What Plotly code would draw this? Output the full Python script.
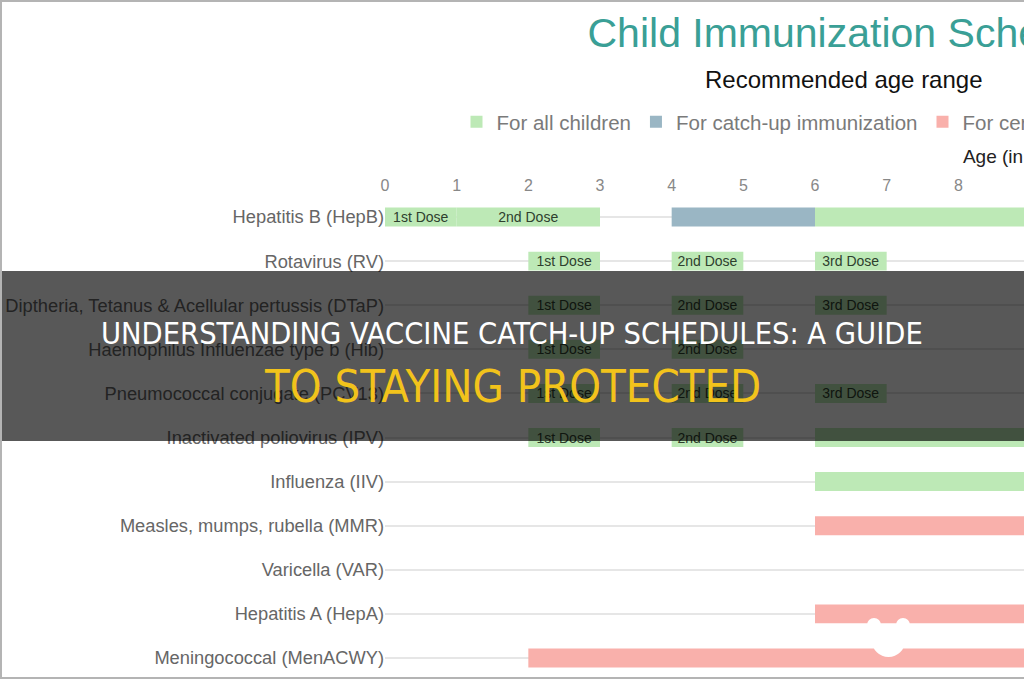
import plotly.graph_objects as go

# ---------------- data ----------------
vaccines = [
    "Hepatitis B (HepB)",
    "Rotavirus (RV)",
    "Diptheria, Tetanus & Acellular pertussis (DTaP)",
    "Haemophilus Influenzae type b (Hib)",
    "Pneumococcal conjugate (PCV13)",
    "Inactivated poliovirus (IPV)",
    "Influenza (IIV)",
    "Measles, mumps, rubella (MMR)",
    "Varicella (VAR)",
    "Hepatitis A (HepA)",
    "Meningococcal (MenACWY)",
]

# For all children (age ranges in months)
all_vaccine = ["Hepatitis B (HepB)", "Hepatitis B (HepB)", "Hepatitis B (HepB)",
               "Rotavirus (RV)", "Rotavirus (RV)", "Rotavirus (RV)",
               "Diptheria, Tetanus & Acellular pertussis (DTaP)",
               "Diptheria, Tetanus & Acellular pertussis (DTaP)",
               "Diptheria, Tetanus & Acellular pertussis (DTaP)",
               "Haemophilus Influenzae type b (Hib)", "Haemophilus Influenzae type b (Hib)",
               "Pneumococcal conjugate (PCV13)", "Pneumococcal conjugate (PCV13)",
               "Pneumococcal conjugate (PCV13)",
               "Inactivated poliovirus (IPV)", "Inactivated poliovirus (IPV)",
               "Inactivated poliovirus (IPV)",
               "Influenza (IIV)"]
all_start = [0, 1, 6, 2, 4, 6, 2, 4, 6, 2, 4, 2, 4, 6, 2, 4, 6, 6]
all_end = [1, 3, 18, 3, 5, 7, 3, 5, 7, 3, 5, 3, 5, 7, 3, 5, 18, 18]
all_label = ["1st Dose", "2nd Dose", "",
             "1st Dose", "2nd Dose", "3rd Dose",
             "1st Dose", "2nd Dose", "3rd Dose",
             "1st Dose", "2nd Dose",
             "1st Dose", "2nd Dose", "3rd Dose",
             "1st Dose", "2nd Dose", "",
             ""]

# For catch-up immunization
catch_vaccine = ["Hepatitis B (HepB)"]
catch_start = [4]
catch_end = [6]

# For certain high-risk groups
risk_vaccine = ["Measles, mumps, rubella (MMR)", "Hepatitis A (HepA)", "Meningococcal (MenACWY)"]
risk_start = [6, 6, 2]
risk_end = [12, 12, 18]

age_ticks = list(range(0, 19))

# ---------------- layout constants ----------------
W, H = 1688, 680
L, R, T, B = 385, 13, 195, 0
PW, PH = W - L - R, H - T - B
FONT = "Arial, Liberation Sans, sans-serif"
NARROW = "Arial Narrow, Liberation Sans Narrow, DejaVu Sans Condensed, sans-serif"


def px_x(px):
    return (px - L) / PW


def px_y(py):
    return (H - B - py) / PH


fig = go.Figure()

fig.add_trace(go.Bar(
    name="For all children", orientation="h",
    y=all_vaccine, base=all_start,
    x=[e - s for s, e in zip(all_start, all_end)],
    text=all_label, textposition="inside", insidetextanchor="middle", textangle=0,
    textfont=dict(family=FONT, size=14, color="#2e402e"),
    marker=dict(color="#bde9b6", line=dict(width=0)),
    hoverinfo="skip",
))
fig.add_trace(go.Bar(
    name="For catch-up immunization", orientation="h",
    y=catch_vaccine, base=catch_start,
    x=[e - s for s, e in zip(catch_start, catch_end)],
    marker=dict(color="#9ab6c4", line=dict(width=0)),
    hoverinfo="skip",
))
fig.add_trace(go.Bar(
    name="For certain high-risk groups", orientation="h",
    y=risk_vaccine, base=risk_start,
    x=[e - s for s, e in zip(risk_start, risk_end)],
    marker=dict(color="#f9b0ab", line=dict(width=0)),
    hoverinfo="skip",
))

shapes = [
    # dark banner overlay
    dict(type="rect", xref="paper", yref="paper", layer="above",
         x0=px_x(-5), x1=px_x(W + 5), y0=px_y(441), y1=px_y(271),
         fillcolor="rgba(0,0,0,0.655)", line=dict(width=0)),
    # screenshot frame
    dict(type="rect", xref="paper", yref="paper", layer="above",
         x0=px_x(1), x1=px_x(W + 10), y0=px_y(678), y1=px_y(1),
         fillcolor="rgba(0,0,0,0)", line=dict(color="#b4b4b4", width=2)),
    # small white watermark
    dict(type="circle", xref="paper", yref="paper", layer="above",
         x0=px_x(872), x1=px_x(905), y0=px_y(657), y1=px_y(625),
         fillcolor="white", line=dict(width=0)),
    dict(type="circle", xref="paper", yref="paper", layer="above",
         x0=px_x(867), x1=px_x(881), y0=px_y(632), y1=px_y(618),
         fillcolor="white", line=dict(width=0)),
    dict(type="circle", xref="paper", yref="paper", layer="above",
         x0=px_x(896), x1=px_x(910), y0=px_y(632), y1=px_y(618),
         fillcolor="white", line=dict(width=0)),
]

annotations = [
    dict(text="Recommended age range", xref="paper", yref="paper",
         x=px_x(W / 2), y=px_y(80), xanchor="center", yanchor="middle",
         showarrow=False, font=dict(family=FONT, size=24, color="#111111")),
    dict(text="UNDERSTANDING VACCINE CATCH-UP SCHEDULES: A GUIDE", xref="paper", yref="paper",
         x=px_x(512), y=px_y(333), xanchor="center", yanchor="middle",
         showarrow=False, font=dict(family=NARROW, size=30.5, color="#ffffff")),
    dict(text="TO STAYING PROTECTED", xref="paper", yref="paper",
         x=px_x(512), y=px_y(386), xanchor="center", yanchor="middle",
         showarrow=False, font=dict(family=NARROW, size=45, color="#f2c31b")),
]

fig.update_layout(
    width=W, height=H, autosize=False,
    margin=dict(l=L, r=R, t=T, b=B, pad=0),
    paper_bgcolor="white", plot_bgcolor="white",
    barmode="overlay", bargap=0.57,
    font=dict(family=FONT),
    title=dict(text="Child Immunization Schedule", xref="container", yref="container",
               x=0.5 + 9 / W, xanchor="center", y=1 - 33 / H, yanchor="middle",
               font=dict(family=FONT, size=41, color="#3a9f96")),
    legend=dict(orientation="h", xref="container", yref="container",
                x=0.5 - 7 / W, xanchor="center", y=1 - 122 / H, yanchor="middle",
                font=dict(family=FONT, size=20.5, color="#7a7a7a"),
                itemwidth=30, traceorder="normal"),
    xaxis=dict(side="top", range=[0, 18], tickmode="array", tickvals=age_ticks,
               ticktext=[str(v) for v in age_ticks],
               showgrid=False, zeroline=False, showline=False, ticks="",
               tickfont=dict(family=FONT, size=16, color="#888888"),
               title=dict(text="Age (in months)", standoff=8,
                          font=dict(family=FONT, size=19, color="#222222"))),
    yaxis=dict(type="category", categoryorder="array", categoryarray=vaccines,
               range=[len(vaccines) - 0.5, -0.5],
               showgrid=True, gridcolor="#e6e6e6", gridwidth=2,
               zeroline=False, showline=False, ticks="",
               tickfont=dict(family=FONT, size=18.3, color="#666666")),
    shapes=shapes,
    annotations=annotations,
    uniformtext=dict(minsize=14, mode="show"),
)

fig.write_html(
    "out.html",
    config={"displayModeBar": False},
    post_script="document.documentElement.style.overflow='hidden';"
                "document.body.style.overflow='hidden';document.body.style.margin='0';",
)
